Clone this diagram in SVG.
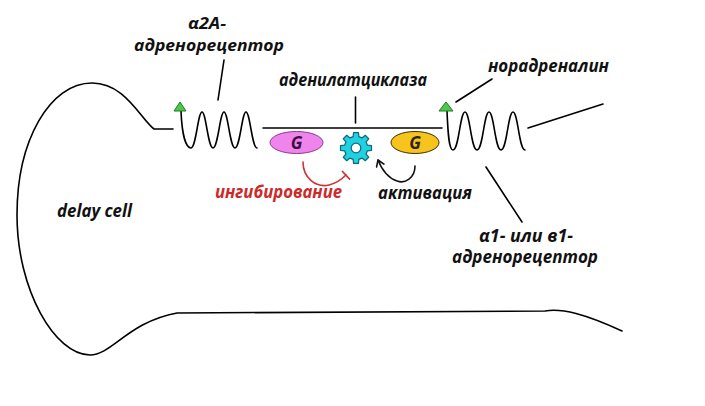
<svg xmlns="http://www.w3.org/2000/svg" width="705" height="406" viewBox="0 0 705 406">
<style>
.ln{fill:none;stroke:#000;stroke-width:1.6;stroke-linecap:round;stroke-linejoin:round}
.t{font-family:"Open Sans","Liberation Sans",sans-serif;font-style:italic;font-weight:700;font-size:17px;fill:#111}
.s{font-size:15.5px}
.red{fill:#cc2a2a}
.tri{fill:#4cc94c;stroke:#1f7a1f;stroke-width:1}
.g{font-family:"Open Sans","Liberation Sans",sans-serif;font-style:italic;font-weight:700;font-size:17px;text-anchor:middle}
</style>
<defs>
<marker id="arr" markerWidth="10" markerHeight="10" refX="7" refY="5" orient="auto" markerUnits="userSpaceOnUse">
<path d="M1,1 L7,5 L1,9" fill="none" stroke="#111" stroke-width="1.6" stroke-linecap="round" stroke-linejoin="round"/>
</marker>
</defs>
<rect width="705" height="406" fill="#fff"/>
<g id="cell">
<path class="ln" d="M173 129 L154 129 C140 118 125 83 92 83 C50 83 17 140 17 215 C17 290 55 355 90 355 C112 355 128 322 177 313 L545 311 C562 308 585 314 622 331"/>
<path class="ln" d="M263 128 L442 128"/>
<path class="ln" d="M528 128 L603 104"/>
</g>
<g id="alpha2A-receptor">
<path class="ln" d="M181 111 C182 135 186 148 191 148 C196 148 198 112 202 112 C206 112 208 148 213 148 C218 148 220 112 224 112 C228 112 230 148 235 148 C240 148 242 112 246 112 C250 112 252 148 257 148"/>
<polygon class="tri" points="180,102 174,111 186,111"/>
</g>
<g id="alpha1-receptor">
<path class="ln" d="M447 111 C448 135 449 150 453 150 C459 150 460 112 465 112 C470 112 471 150 477 150 C483 150 484 112 489 112 C494 112 495 150 501 150 C507 150 508 112 513 112 C518 112 519 150 525 150"/>
<polygon class="tri" points="446,102 439,111 453,111"/>
</g>
<g id="g-inhibitory">
<ellipse cx="296.5" cy="142.5" rx="26.5" ry="11" fill="#ee84ec" stroke="#8a3a8a" stroke-width="1"/>
<text class="g" x="296.5" y="148.5" fill="#3b1040">G</text>
</g>
<g id="adenylate-cyclase">
<g transform="translate(356,148) scale(1.12)">
<path d="M10.19 -2.54 L13.83 -2.19 L13.83 2.19 L10.19 2.54 L9 5.41 L11.33 8.23 L8.23 11.33 L5.41 9 L2.54 10.19 L2.19 13.83 L-2.19 13.83 L-2.54 10.19 L-5.41 9 L-8.23 11.33 L-11.33 8.23 L-9 5.41 L-10.19 2.54 L-13.83 2.19 L-13.83 -2.19 L-10.19 -2.54 L-9 -5.41 L-11.33 -8.23 L-8.23 -11.33 L-5.41 -9 L-2.54 -10.19 L-2.19 -13.83 L2.19 -13.83 L2.54 -10.19 L5.41 -9 L8.23 -11.33 L11.33 -8.23 L9 -5.41 Z" fill="#22d0e0" stroke="#0d6c78" stroke-width="1.1" stroke-linejoin="round"/>
<circle r="4.3" fill="#fff" stroke="#0d6c78" stroke-width="1.1"/>
</g>
</g>
<g id="g-stimulatory">
<ellipse cx="415" cy="142.5" rx="24" ry="11" fill="#f6c41c" stroke="#3a3000" stroke-width="1"/>
<text class="g" x="415" y="148.5" fill="#2a2410">G</text>
</g>
<g id="connectors">
<path class="ln" d="M224 60 L218 100"/>
<path class="ln" d="M355.5 97 L355.5 123"/>
<path class="ln" d="M456 102 L492 79"/>
<path class="ln" d="M486 167 L522 222"/>
<path d="M303 162 C303 178 316 188 329 185 C337 183 342 179 346 175" fill="none" stroke="#cc3333" stroke-width="1.6" stroke-linecap="round"/>
<path d="M342.5 171.5 L349.5 179" fill="none" stroke="#cc3333" stroke-width="1.8" stroke-linecap="round"/>
<path d="M415 166 C415 178 405 184 397 181 C388 178 382 170 378 160" fill="none" stroke="#111" stroke-width="1.6" stroke-linecap="round" marker-end="url(#arr)"/>
</g>
<g id="labels">
<text class="t s" x="188" y="29" textLength="38" lengthAdjust="spacingAndGlyphs">α2A-</text>
<text class="t s" x="134" y="50.5" textLength="150" lengthAdjust="spacingAndGlyphs">адренорецептор</text>
<text class="t" x="279" y="86" textLength="148" lengthAdjust="spacingAndGlyphs">аденилатциклаза</text>
<text class="t" x="488" y="72" textLength="121" lengthAdjust="spacingAndGlyphs">норадреналин</text>
<text class="t red" x="215" y="198" textLength="127" lengthAdjust="spacingAndGlyphs">ингибирование</text>
<text class="t" x="378" y="199" textLength="94" lengthAdjust="spacingAndGlyphs">активация</text>
<text class="t" x="57" y="217" textLength="75" lengthAdjust="spacingAndGlyphs">delay cell</text>
<text class="t"><tspan x="479" y="242" textLength="94" lengthAdjust="spacingAndGlyphs">α1- или в1-</tspan><tspan x="452" y="263" textLength="146" lengthAdjust="spacingAndGlyphs">адренорецептор</tspan></text>
</g>
</svg>
